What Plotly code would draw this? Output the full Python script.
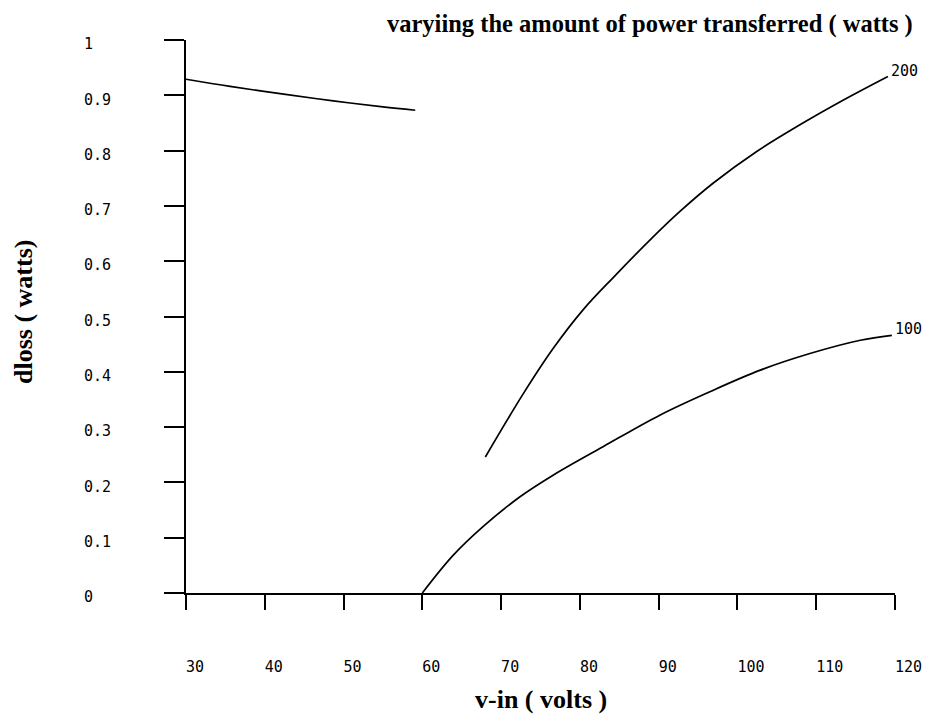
import plotly.graph_objects as go

# ---- data ----
x_top = [30, 35.6, 42.4, 48.7, 55.0, 59.1]
y_top = [0.929, 0.916, 0.902, 0.890, 0.879, 0.873]

x_200 = [68.0, 72.8, 76.6, 80.4, 84.2, 89.3, 92.7, 96.9, 102.4, 107.5, 113.4, 119.1]
y_200 = [0.246, 0.360, 0.442, 0.512, 0.570, 0.644, 0.690, 0.741, 0.798, 0.843, 0.891, 0.934]

x_100 = [60.0, 63.9, 67.7, 72.4, 76.6, 83.0, 90.2, 96.5, 102.9, 109.2, 115.6, 119.6]
y_100 = [0.0, 0.068, 0.120, 0.174, 0.213, 0.265, 0.322, 0.364, 0.403, 0.433, 0.457, 0.466]

curve_labels = ["200", "100"]

x_ticks = [30, 40, 50, 60, 70, 80, 90, 100, 110, 120]
x_ticklabels = ["30", "40", "50", "60", "70", "80", "90", "100", "110", "120"]
y_ticks = [0, 0.1, 0.2, 0.3, 0.4, 0.5, 0.6, 0.7, 0.8, 0.9, 1]
y_ticklabels = ["0", "0.1", "0.2", "0.3", "0.4", "0.5", "0.6", "0.7", "0.8", "0.9", "1"]

title_text = "varyiing the amount of power transferred ( watts )"
x_title = "v-in ( volts )"
y_title = "dloss ( watts)"

NB = "\u00a0"
MONO = "DejaVu Sans Mono"
SERIF = "Liberation Serif"

# left-align labels in a monospace font by padding with no-break spaces
x_text = [NB * len(t) + t for t in x_ticklabels]
y_text = [t + NB * (3 - len(t)) for t in y_ticklabels]

fig = go.Figure()
line = dict(color="black", width=1.7, shape="spline", smoothing=1.0)
fig.add_trace(go.Scatter(x=x_top, y=y_top, mode="lines", line=line, hoverinfo="skip"))
fig.add_trace(go.Scatter(x=x_200, y=y_200, mode="lines", line=line, hoverinfo="skip"))
fig.add_trace(go.Scatter(x=x_100, y=y_100, mode="lines", line=line, hoverinfo="skip"))

for xs, ys, lab in [(x_200, y_200, curve_labels[0]), (x_100, y_100, curve_labels[1])]:
    fig.add_annotation(x=xs[-1], y=ys[-1], text=lab, showarrow=False,
                       xanchor="left", yanchor="middle", yshift=6, xshift=1,
                       font=dict(family=MONO, size=15, color="black"))

fig.add_annotation(xref="paper", yref="paper", x=0.281, y=1.029, text=title_text,
                   showarrow=False, xanchor="left", yanchor="middle",
                   font=dict(family=SERIF, size=24.5, color="black", weight="bold"))
fig.add_annotation(xref="paper", yref="paper", x=0.5, y=-0.193, text=x_title,
                   showarrow=False, xanchor="center", yanchor="middle",
                   font=dict(family=SERIF, size=26, color="black", weight="bold"))
fig.add_annotation(xref="paper", yref="paper", x=-0.23, y=0.508, text=y_title,
                   showarrow=False, xanchor="center", yanchor="middle", textangle=-90,
                   font=dict(family=SERIF, size=26, color="black", weight="bold"))

fig.update_layout(
    width=930, height=719,
    margin=dict(l=178, r=43, t=32, b=134),
    paper_bgcolor="white", plot_bgcolor="white",
    showlegend=False,
    xaxis=dict(range=[30, 120], showline=True, linecolor="black", linewidth=2,
               ticks="outside", ticklen=15, tickwidth=2, tickcolor="black",
               tickvals=x_ticks, ticktext=x_text, showgrid=False, zeroline=False,
               tickfont=dict(family=MONO, size=15, color="black"),
               ticklabelstandoff=44),
    yaxis=dict(range=[0, 1], showline=True, linecolor="black", linewidth=2,
               ticks="outside", ticklen=20, tickwidth=2, tickcolor="black",
               tickvals=y_ticks, ticktext=y_text, showgrid=False, zeroline=False,
               tickfont=dict(family=MONO, size=15, color="black"),
               ticklabelstandoff=50, ticklabelshift=4),
)

fig.write_html("out.html")
